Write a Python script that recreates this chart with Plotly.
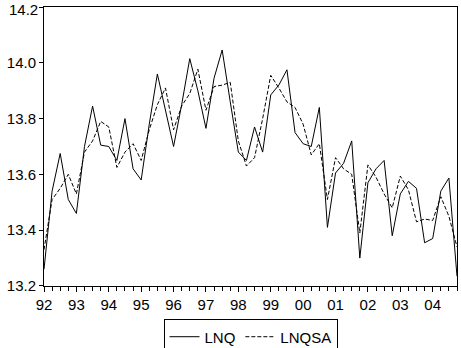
import plotly.graph_objects as go

years = list(range(1992, 2005))
tick_labels = ["92", "93", "94", "95", "96", "97", "98", "99", "00", "01", "02", "03", "04"]
quarters = [y + q / 4 for y in years for q in range(4)]

lnq = [13.26, 13.54, 13.675, 13.51, 13.46, 13.70, 13.845, 13.705, 13.70, 13.65,
       13.80, 13.62, 13.58, 13.78, 13.96, 13.83, 13.70, 13.85, 14.015, 13.90,
       13.765, 13.945, 14.046, 13.86, 13.68, 13.65, 13.77, 13.68, 13.885, 13.92,
       13.975, 13.75, 13.71, 13.70, 13.84, 13.41, 13.605, 13.64, 13.72, 13.30,
       13.57, 13.62, 13.65, 13.38, 13.53, 13.575, 13.55, 13.355, 13.37, 13.54,
       13.587, 13.235]
lnqsa = [13.33, 13.51, 13.55, 13.60, 13.53, 13.68, 13.72, 13.79, 13.77, 13.625,
         13.68, 13.71, 13.65, 13.76, 13.85, 13.91, 13.76, 13.845, 13.89, 13.977,
         13.83, 13.915, 13.92, 13.93, 13.72, 13.63, 13.66, 13.80, 13.955, 13.91,
         13.86, 13.84, 13.78, 13.67, 13.71, 13.51, 13.66, 13.62, 13.60, 13.39,
         13.634, 13.59, 13.53, 13.48, 13.594, 13.545, 13.43, 13.44, 13.435, 13.52,
         13.45, 13.34]
y_ticks = [13.2, 13.4, 13.6, 13.8, 14.0, 14.2]
y_tick_labels = ["13.2", "13.4", "13.6", "13.8", "14.0", "14.2"]

fig = go.Figure()
fig.add_trace(go.Scatter(x=quarters, y=lnq, mode="lines", name="LNQ",
                         line=dict(color="black", width=1)))
fig.add_trace(go.Scatter(x=quarters, y=lnqsa, mode="lines", name="LNQSA",
                         line=dict(color="black", width=1, dash="4px,2px")))

font = dict(family="Liberation Sans, Arial, sans-serif", size=15, color="black")

# top tick label drawn as an annotation so it stays fully inside the page
axis_labels = y_tick_labels[:-1] + [""]
fig.add_annotation(text=y_tick_labels[-1], xref="paper", x=0, xanchor="right",
                   xshift=-5, yref="paper", y=1, yanchor="top", yshift=7,
                   showarrow=False, font=font, borderpad=0)

fig.update_layout(
    width=461, height=348,
    margin=dict(l=44, r=4, t=7, b=62, autoexpand=False),
    paper_bgcolor="white", plot_bgcolor="white",
    font=font,
    showlegend=True,
    legend=dict(orientation="h", x=0.5, xanchor="center",
                yref="container", y=0.082, yanchor="top",
                bordercolor="black", borderwidth=1, font=font,
                itemwidth=30, tracegroupgap=0),
    xaxis=dict(range=[1992, 2004.75], tickvals=years, ticktext=tick_labels,
               showgrid=False, zeroline=False, showline=True, mirror=True,
               linecolor="black", linewidth=1, ticks="outside", ticklen=5,
               tickcolor="black", ticklabeloverflow="allow",
               minor=dict(dtick=0.25, tick0=1992, ticks="outside", ticklen=4,
                          tickcolor="black", showgrid=False)),
    yaxis=dict(range=[13.1999, 14.2001], tickvals=y_ticks, ticktext=axis_labels,
               showgrid=False, zeroline=False, showline=True, mirror=True,
               linecolor="black", linewidth=1, ticks="outside", ticklen=4,
               tickcolor="black", ticklabeloverflow="allow"),
)
fig.write_html("out.html")
